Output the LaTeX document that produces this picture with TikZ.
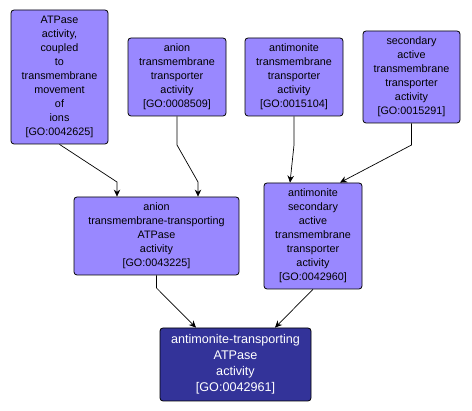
\documentclass[tikz,border=0pt]{standalone}
\usepackage{fontspec}
\setmainfont{Liberation Sans}
\usetikzlibrary{arrows.meta,positioning,calc}

\definecolor{termfill}{RGB}{153,136,255}
\definecolor{goalfill}{RGB}{51,51,153}

\tikzset{
  term/.style={draw=black, fill=termfill, rounded corners=3pt, line width=0.8pt,
    align=center, inner sep=2pt, font=\fontsize{10.8}{14}\selectfont},
  goal/.style={term, fill=goalfill, text=white, font=\fontsize{12.6}{16}\selectfont},
  isa/.style={-{Stealth[length=7pt,width=6.5pt]}, line width=0.7pt}
}

\begin{document}
\begin{tikzpicture}[x=1pt, y=-1pt]
  \useasboundingbox (0,0) rectangle (472,411);

  % Terms of the graph
  \node[term, minimum width=97pt, minimum height=134pt] (atpase) at (59.5,77)
    {ATPase\\activity,\\coupled\\to\\transmembrane\\movement\\of\\ions\\{[GO:0042625]}};
  \node[term, minimum width=98pt, minimum height=78pt] (aniontr) at (177,77)
    {anion\\transmembrane\\transporter\\activity\\{[GO:0008509]}};
  \node[term, minimum width=98pt, minimum height=78pt] (antitr) at (294,77)
    {antimonite\\transmembrane\\transporter\\activity\\{[GO:0015104]}};
  \node[term, minimum width=97pt, minimum height=92pt] (secact) at (411.5,77)
    {secondary\\active\\transmembrane\\transporter\\activity\\{[GO:0015291]}};
  \node[term, minimum width=165pt, minimum height=78pt] (anionatp) at (156.5,236)
    {anion\\transmembrane-transporting\\ATPase\\activity\\{[GO:0043225]}};
  \node[term, minimum width=98pt, minimum height=106pt] (antisec) at (313,236)
    {antimonite\\secondary\\active\\transmembrane\\transporter\\activity\\{[GO:0042960]}};
  \node[goal, minimum width=151pt, minimum height=73pt] (target) at (235.5,364.5)
    {antimonite-transporting\\ATPase\\activity\\{[GO:0042961]}};

  % Edges
  \draw[isa] (atpase.south) -- (117,182) -- (117,0 |- anionatp.north);
  \draw[isa] (aniontr.south) -- (177,145) -- (198,182) -- (198,0 |- anionatp.north);
  \draw[isa] (antitr.south) -- (294,145) -- (290,0 |- antisec.north);
  \draw[isa] (secact.south) -- (411.5,145) -- (340,0 |- antisec.north);
  \draw[isa] (anionatp.south) -- (156.5,288) -- (196,0 |- target.north);
  \draw[isa] (antisec.south) -- (275,0 |- target.north);
\end{tikzpicture}
\end{document}
